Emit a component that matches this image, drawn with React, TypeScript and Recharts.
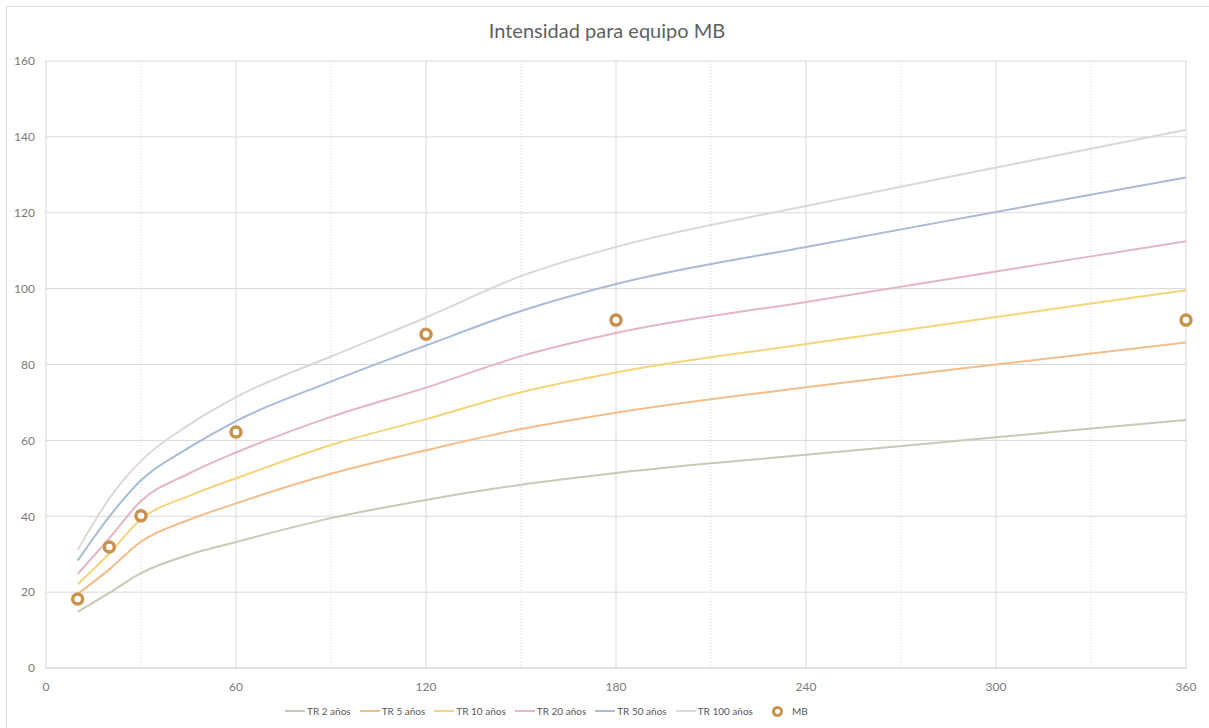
import {
	CartesianGrid,
	ComposedChart,
	Line,
	ReferenceLine,
	XAxis,
	YAxis,
} from "recharts";

// duration (min)
const minutes = [10, 20, 30, 45, 60, 90, 120, 150, 180, 240, 300, 360];

const tr2 = [14.8, 19.8, 25.0, 29.8, 33.2, 39.5, 44.3, 48.3, 51.4, 56.2, 60.8, 65.4];
const tr5 = [19.5, 26.0, 33.3, 39.0, 43.4, 51.2, 57.4, 63.0, 67.3, 74.0, 80.0, 85.8];
const tr10 = [22.1, 30.2, 39.2, 45.3, 50.0, 58.8, 65.6, 72.7, 77.9, 85.4, 92.5, 99.6];
const tr20 = [24.8, 34.2, 44.0, 51.2, 56.8, 66.2, 73.9, 82.2, 88.3, 96.5, 104.5, 112.5];
const tr50 = [28.3, 39.9, 49.5, 58.0, 65.1, 75.5, 85.0, 94.1, 101.2, 111.0, 120.2, 129.3];
const tr100 = [31.1, 44.7, 54.6, 64.0, 71.4, 82.1, 92.4, 103.3, 111.0, 121.8, 131.9, 141.9];
const mb = [18.2, 31.9, 40.1, null, 62.2, null, 88.0, null, 91.7, null, null, 91.7];

const xTicks = [0, 60, 120, 180, 240, 300, 360];
const minorTicks = [30, 90, 150, 210, 270, 330];
const yTicks = [0, 20, 40, 60, 80, 100, 120, 140, 160];

const series = [
	{ key: "tr2", name: "TR 2 años", values: tr2, color: "#c5cbb5" },
	{ key: "tr5", name: "TR 5 años", values: tr5, color: "#f3be8b" },
	{ key: "tr10", name: "TR 10 años", values: tr10, color: "#f4d57a" },
	{ key: "tr20", name: "TR 20 años", values: tr20, color: "#e4b6c5" },
	{ key: "tr50", name: "TR 50 años", values: tr50, color: "#a8bcd7" },
	{ key: "tr100", name: "TR 100 años", values: tr100, color: "#d9d9d9" },
];
const mbColor = "#c8934f";

const data = minutes.map((x, i) => {
	const row: Record<string, number | null> = { x, mb: mb[i] };
	series.forEach((s) => {
		row[s.key] = s.values[i];
	});
	return row;
});

const font = "Lato, 'Open Sans', sans-serif";
const tick = { fill: "#7a7a7a", fontSize: 12, fontFamily: font };

export default function App() {
	return (
		<div
			style={{
				position: "absolute",
				left: 0,
				top: 0,
				width: 1209,
				height: 728,
				background: "#fff",
				fontFamily: font,
			}}
		>
			<div
				style={{
					position: "absolute",
					left: 6,
					top: 6,
					width: 1210,
					height: 730,
					border: "1px solid #d9d9d9",
				}}
			/>
			<div
				style={{
					position: "absolute",
					top: 18,
					left: 0,
					width: 1214,
					textAlign: "center",
					fontSize: 20,
					color: "#5f5f5f",
				}}
			>
				Intensidad para equipo MB
			</div>
			<div style={{ position: "absolute", left: 0, top: 0 }}>
				<ComposedChart
					width={1209}
					height={728}
					data={data}
					margin={{ top: 61, right: 23, left: 6, bottom: 30 }}
				>
					<CartesianGrid stroke="#d9d9d9" strokeWidth={1} />
					{minorTicks.map((m) => (
						<ReferenceLine
							key={m}
							x={m}
							stroke="#d9d9d9"
							strokeDasharray="1 2"
						/>
					))}
					<XAxis
						dataKey="x"
						type="number"
						domain={[0, 360]}
						ticks={xTicks}
						tick={tick}
						tickLine={false}
						axisLine={{ stroke: "#d9d9d9" }}
						tickMargin={8}
						height={30}
					/>
					<YAxis
						type="number"
						domain={[0, 160]}
						ticks={yTicks}
						tick={tick}
						tickLine={false}
						axisLine={false}
						tickMargin={5}
						width={40}
					/>
					{series.map((s) => (
						<Line
							key={s.key}
							dataKey={s.key}
							name={s.name}
							type="monotone"
							stroke={s.color}
							strokeWidth={2}
							dot={false}
							isAnimationActive={false}
						/>
					))}
					<Line
						dataKey="mb"
						name="MB"
						stroke="none"
						strokeWidth={0}
						dot={{ r: 5, stroke: mbColor, strokeWidth: 3.5, fill: "#fff" }}
						activeDot={false}
						isAnimationActive={false}
					/>
				</ComposedChart>
			</div>
			<div
				style={{
					position: "absolute",
					left: 285,
					top: 705,
					display: "flex",
					alignItems: "center",
					gap: 9,
					fontSize: 10,
					color: "#595959",
					whiteSpace: "nowrap",
				}}
			>
				{series.map((s) => (
					<div key={s.key} style={{ display: "flex", alignItems: "center" }}>
						<span
							style={{
								display: "inline-block",
								width: 20,
								height: 2,
								background: s.color,
								marginRight: 2,
							}}
						/>
						{s.name}
					</div>
				))}
				<div style={{ display: "flex", alignItems: "center", marginLeft: 10 }}>
					<span
						style={{
							display: "inline-block",
							width: 5,
							height: 5,
							borderRadius: "50%",
							border: `3px solid ${mbColor}`,
							marginRight: 9,
						}}
					/>
					MB
				</div>
			</div>
		</div>
	);
}
